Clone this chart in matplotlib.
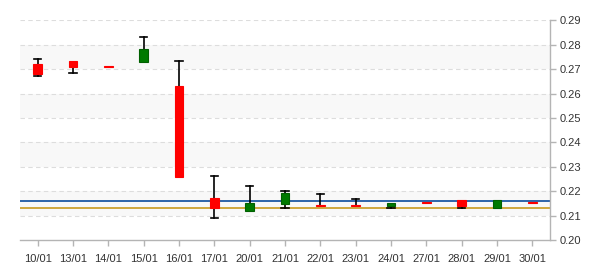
import matplotlib
matplotlib.use("Agg")
import matplotlib.pyplot as plt
import numpy as np

dates = ["10/01", "13/01", "14/01", "15/01", "16/01", "17/01", "20/01", "21/01",
         "22/01", "23/01", "24/01", "27/01", "28/01", "29/01", "30/01"]
opens = [0.272, 0.2733, 0.2713, 0.273, 0.2631, 0.2171, 0.212, 0.2148,
         0.2145, 0.2145, 0.214, 0.2156, 0.2162, 0.213, 0.2156]
closes = [0.268, 0.271, 0.2709, 0.2782, 0.2258, 0.213, 0.215, 0.2191,
          0.2141, 0.2141, 0.215, 0.2151, 0.214, 0.2162, 0.2151]
highs = [0.274, 0.2733, 0.2713, 0.283, 0.2732, 0.2261, 0.222, 0.2199,
         0.219, 0.217, 0.215, 0.2156, 0.2162, 0.2162, 0.2156]
lows = [0.267, 0.2683, 0.2709, 0.273, 0.2258, 0.2089, 0.212, 0.213,
        0.2141, 0.2141, 0.213, 0.2151, 0.213, 0.213, 0.2151]
line_blue = 0.2158
line_gold = 0.2131

fig = plt.figure(figsize=(6, 2.7), dpi=100)
ax = fig.add_axes([20 / 600, 30 / 270, 530 / 600, 219.7 / 270])

# alternating bands + dashed grid
for lo in [0.21, 0.23, 0.25, 0.27]:
    ax.axhspan(lo, lo + 0.01, color="#f8f8f8", lw=0, zorder=0)
for v in np.arange(0.21, 0.295, 0.01):
    ax.axhline(v, color="#dddddd", lw=0.8, ls=(0, (4, 3)), zorder=0.5)

ax.axhline(line_blue, color="#0b4c9c", lw=1.2, zorder=2)
ax.axhline(line_gold, color="#c89a1e", lw=1.2, zorder=2)

x = np.arange(len(dates))
w = 0.25
cap = 0.1
for i in x:
    o, c, h, l = opens[i], closes[i], highs[i], lows[i]
    col = "#ff0000" if c < o else "#007a00"
    top, bot = max(o, c), min(o, c)
    if h > top:
        ax.plot([i, i], [top, h], color="black", lw=1.2, zorder=3)
        ax.plot([i - cap, i + cap], [h, h], color="black", lw=1.2, zorder=3)
    if l < bot:
        ax.plot([i, i], [l, bot], color="black", lw=1.2, zorder=3)
        ax.plot([i - cap, i + cap], [l, l], color="black", lw=1.2, zorder=3)
    ax.bar(i, top - bot, bottom=bot, width=w, color=col,
           edgecolor="#ff0000" if c < o else "#006000", lw=0.8, zorder=4)

ax.set_xlim(-0.5, len(dates) - 0.5)
ax.set_ylim(0.20, 0.29)
ax.set_xticks(x)
ax.set_xticklabels(dates)
ax.set_yticks(np.arange(0.20, 0.295, 0.01))
ax.set_yticklabels([f"{v:.2f}" for v in np.arange(0.20, 0.295, 0.01)])

ax.yaxis.tick_right()
for s in ["top", "left"]:
    ax.spines[s].set_visible(False)
for s in ["bottom", "right"]:
    ax.spines[s].set_color("#b4b4b4")
    ax.spines[s].set_linewidth(1)
ax.tick_params(axis="both", colors="#b4b4b4", length=4, width=1,
               labelsize=8, labelcolor="#333333")
ax.tick_params(axis="y", pad=3)
ax.tick_params(axis="x", pad=6)
for t in ax.get_xticklabels() + ax.get_yticklabels():
    t.set_fontfamily("Liberation Sans")

fig.savefig("out.png", dpi=100)
